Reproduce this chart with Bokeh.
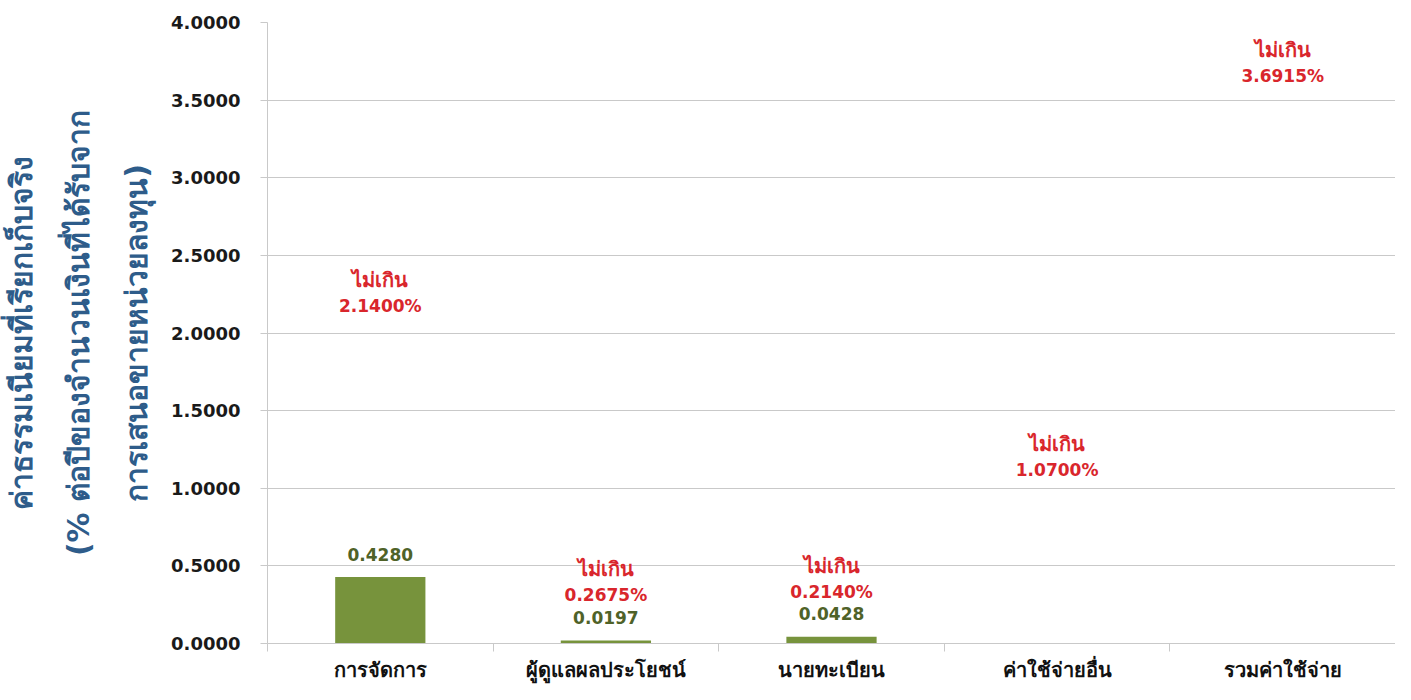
from bokeh.plotting import figure
from bokeh.models import (Range1d, FixedTicker, NumeralTickFormatter, ColumnDataSource)
from bokeh.core.properties import value
from bokeh.embed import file_html
from bokeh.resources import INLINE

# ---- data ----
categories = ["การจัดการ", "ผู้ดูแลผลประโยชน์", "นายทะเบียน", "ค่าใช้จ่ายอื่น", "รวมค่าใช้จ่าย"]
actual_cats = ["การจัดการ", "ผู้ดูแลผลประโยชน์", "นายทะเบียน"]
actual_values = [0.4280, 0.0197, 0.0428]
limit_values = [2.1400, 0.2675, 0.2140, 1.0700, 3.6915]
limit_prefix = "ไม่เกิน"
y_ticks = [0.0, 0.5, 1.0, 1.5, 2.0, 2.5, 3.0, 3.5, 4.0]

# ---- styling / layout (pixel nudges of the limit labels) ----
limit_nudge_px = [-5, -7, -18, -7, 6]
FONT = "DejaVu Sans"
BAR = "#77933c"
VAL = "#4f6228"
RED = "#d9262c"
BLUE = "#2e5c8a"
GRID = "#c9c9c9"

idx = {c: i + 0.5 for i, c in enumerate(categories)}

p = figure(width=1395, height=684, output_backend="svg", toolbar_location=None,
           x_range=Range1d(0, 5), y_range=Range1d(0, 4),
           min_border_left=267, min_border_right=0, min_border_top=22, min_border_bottom=36)
p.outline_line_color = None
p.background_fill_color = "white"
p.border_fill_color = "white"

# bars
bar_src = ColumnDataSource(dict(x=[idx[c] for c in actual_cats], top=actual_values,
                                lab=[f"{v:.4f}" for v in actual_values]))
p.vbar(x="x", top="top", width=0.4, source=bar_src, fill_color=BAR, line_color=None)
p.text(x="x", y="top", text="lab", source=bar_src, y_offset=-23,
       text_align="center", text_baseline="middle", text_color=VAL,
       text_font=value(FONT), text_font_style="bold", text_font_size="17px")

# limit labels
lim_src = ColumnDataSource(dict(x=[i + 0.5 for i in range(len(categories))], y=limit_values,
                                num=[f"{v:.4f}%" for v in limit_values],
                                pre=[limit_prefix] * len(categories),
                                off=limit_nudge_px,
                                off2=[o - 26 for o in limit_nudge_px]))
p.text(x="x", y="y", text="num", source=lim_src, y_offset="off",
       text_align="center", text_baseline="middle", text_color=RED,
       text_font=value(FONT), text_font_style="bold", text_font_size="17px")
p.text(x="x", y="y", text="pre", source=lim_src, y_offset="off2",
       text_align="center", text_baseline="middle", text_color=RED,
       text_font=value(FONT), text_font_style="bold", text_font_size="20px")

# grid
p.xgrid.grid_line_color = None
p.ygrid.grid_line_color = GRID
p.ygrid.grid_line_width = 1

# y axis
ya = p.yaxis[0]
ya.ticker = FixedTicker(ticks=y_ticks)
ya.formatter = NumeralTickFormatter(format="0.0000")
ya.axis_line_color = GRID
ya.major_tick_line_color = GRID
ya.major_tick_out = 7
ya.major_tick_in = 0
ya.minor_tick_line_color = None
ya.major_label_standoff = 20
ya.major_label_text_font = FONT
ya.major_label_text_font_style = "bold"
ya.major_label_text_font_size = "18px"
ya.major_label_text_color = "#1a1a1a"
ya.axis_label = "ค่าธรรมเนียมที่เรียกเก็บจริง\n(% ต่อปีของจำนวนเงินที่ได้รับจาก\nการเสนอขายหน่วยลงทุน)"
ya.axis_label_text_font = FONT
ya.axis_label_text_font_style = "bold"
ya.axis_label_text_font_size = "30px"
ya.axis_label_text_color = BLUE
ya.axis_label_text_line_height = 1.65
ya.axis_label_standoff = 14

# x axis
xa = p.xaxis[0]
xa.ticker = FixedTicker(ticks=[i + 0.5 for i in range(len(categories))],
                        minor_ticks=list(range(len(categories) + 1)))
xa.major_label_overrides = {i + 0.5: c for i, c in enumerate(categories)}
xa.axis_line_color = GRID
xa.major_tick_line_color = None
xa.major_tick_out = 0
xa.major_tick_in = 0
xa.minor_tick_line_color = GRID
xa.minor_tick_out = 8
xa.minor_tick_in = 0
xa.major_label_standoff = 6
xa.major_label_text_font = FONT
xa.major_label_text_font_style = "bold"
xa.major_label_text_font_size = "20px"
xa.major_label_text_color = "#111111"

open("out.html", "w").write(file_html(p, INLINE))
